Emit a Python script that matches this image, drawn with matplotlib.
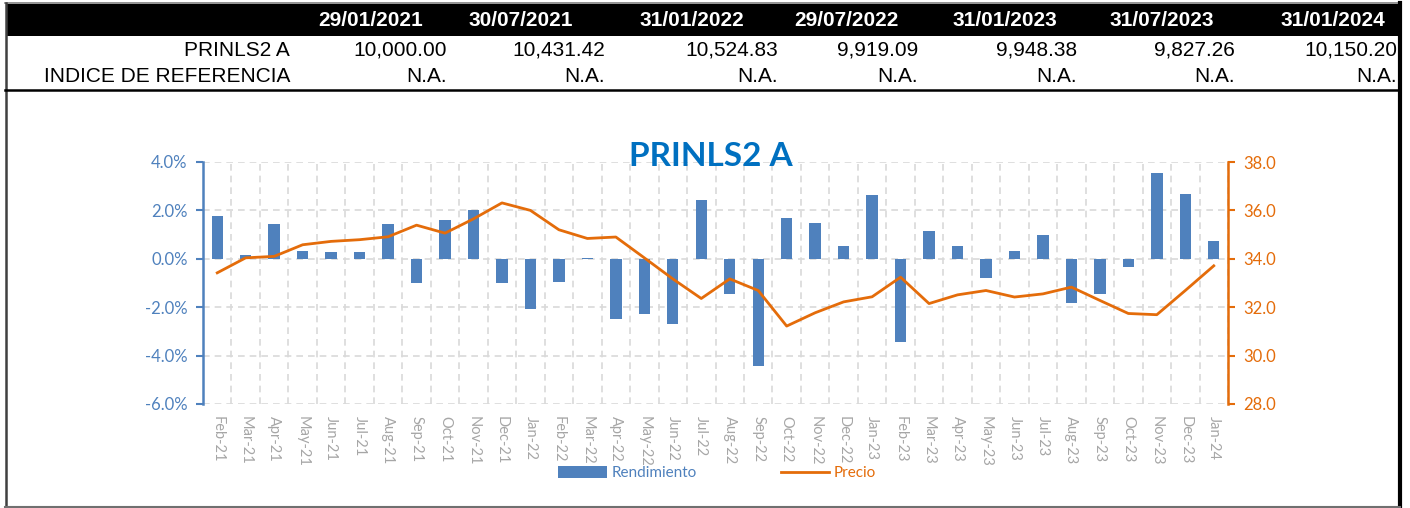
import numpy as np
import matplotlib
matplotlib.use("Agg")
import matplotlib.pyplot as plt
from matplotlib.patches import Rectangle, Patch
from matplotlib.lines import Line2D

# ---------------- data ----------------
fechas = ["29/01/2021", "30/07/2021", "31/01/2022", "29/07/2022",
          "31/01/2023", "31/07/2023", "31/01/2024"]
valores_fondo = ["10,000.00", "10,431.42", "10,524.83", "9,919.09",
                 "9,948.38", "9,827.26", "10,150.20"]
valores_indice = ["N.A."] * 7
fila_labels = ["PRINLS2 A", "INDICE DE REFERENCIA"]

meses = ["Feb-21", "Mar-21", "Apr-21", "May-21", "Jun-21", "Jul-21", "Aug-21",
         "Sep-21", "Oct-21", "Nov-21", "Dec-21", "Jan-22", "Feb-22", "Mar-22",
         "Apr-22", "May-22", "Jun-22", "Jul-22", "Aug-22", "Sep-22", "Oct-22",
         "Nov-22", "Dec-22", "Jan-23", "Feb-23", "Mar-23", "Apr-23", "May-23",
         "Jun-23", "Jul-23", "Aug-23", "Sep-23", "Oct-23", "Nov-23", "Dec-23",
         "Jan-24"]
rendimiento = [1.75, 0.14, 1.42, 0.34, 0.28, 0.28, 1.42, -1.00, 1.61, 2.02,
               -1.00, -2.08, -0.94, 0.04, -2.49, -2.29, -2.69, 2.41, -1.47,
               -4.43, 1.67, 1.47, 0.52, 2.62, -3.43, 1.13, 0.52, -0.80, 0.34,
               1.00, -1.82, -1.47, -0.33, 3.55, 2.69, 0.74]
precio = [33.42, 34.04, 34.10, 34.58, 34.72, 34.79, 34.91, 35.39, 35.06, 35.65,
          36.31, 36.00, 35.20, 34.84, 34.90, 34.04, 33.17, 32.36, 33.17, 32.69,
          31.22, 31.77, 32.22, 32.43, 33.24, 32.15, 32.51, 32.69, 32.42, 32.55,
          32.83, 32.28, 31.74, 31.69, 32.69, 33.71]
titulo = "PRINLS2 A"

# ---------------- layout ----------------
W, H = 1410, 508
fig = plt.figure(figsize=(W / 100, H / 100), dpi=100)

def fx(x):
    return x / W

def fy(y):
    return 1 - y / H

BLUE = "#4F81BD"
ORANGE = "#E46C0A"
GRAY = "#A6A6A6"
TFONT = ["Liberation Sans", "DejaVu Sans"]
CFONT = ["Lato", "DejaVu Sans"]

# table frame
fig.add_artist(Rectangle((fx(7), fy(36)), fx(1400) - fx(7), fy(4) - fy(36),
                         facecolor="black", edgecolor="none",
                         transform=fig.transFigure))
fig.add_artist(Line2D([fx(5), fx(1400)], [fy(3), fy(3)], color="#808080",
                      lw=1.2, transform=fig.transFigure))
fig.add_artist(Line2D([fx(5.5), fx(5.5)], [fy(3), fy(506.5)], color="#404040",
                      lw=1.8, transform=fig.transFigure))
fig.add_artist(Line2D([fx(1400), fx(1400)], [fy(3), fy(506.5)], color="black",
                      lw=3, transform=fig.transFigure))
fig.add_artist(Line2D([fx(5), fx(1400)], [fy(506.5), fy(506.5)], color="#707070",
                      lw=1.5, transform=fig.transFigure))
fig.add_artist(Line2D([fx(5), fx(1400)], [fy(89.5), fy(89.5)], color="black",
                      lw=1.8, transform=fig.transFigure))

header_cx = [371, 521, 692, 846, 1005, 1162, 1333]
value_rx = [447, 605, 778, 918, 1077, 1235, 1397]
for f, cx in zip(fechas, header_cx):
    fig.text(fx(cx), fy(20), f, ha="center", va="center", color="white",
             fontsize=15, fontweight="bold", family=TFONT)
for lab, yy in zip(fila_labels, [50, 77]):
    fig.text(fx(290), fy(yy), lab, ha="right", va="center", color="black",
             fontsize=15, family=TFONT)
for v, rx in zip(valores_fondo, value_rx):
    fig.text(fx(rx), fy(50), v, ha="right", va="center", color="black",
             fontsize=15, family=TFONT)
for v, rx in zip(valores_indice, value_rx):
    fig.text(fx(rx), fy(77), v, ha="right", va="center", color="black",
             fontsize=15, family=TFONT)

# chart
x0, x1, yt, yb = 203, 1228, 162, 404
ax = fig.add_axes([fx(x0), fy(yb), fx(x1) - fx(x0), fy(yt) - fy(yb)])
xs = np.arange(len(meses))
bars = ax.bar(xs, rendimiento, width=0.4, color=BLUE, zorder=3)
ax.set_xlim(-0.5, len(meses) - 0.5)
ax.set_ylim(-6, 4)
ax.set_yticks(np.arange(-6, 4.1, 2))
ax.set_yticklabels([f"{v:.1f}%" for v in np.arange(-6, 4.1, 2)])
ax.set_xticks(xs)
ax.set_xticklabels(meses, rotation=270, color=GRAY, fontsize=10.5,
                   family=CFONT)
ax.set_xticks(np.arange(-0.5, len(meses), 1), minor=True)
ax.tick_params(axis="x", which="both", length=0, pad=9)
ax.tick_params(axis="y", colors=BLUE, labelsize=12, length=5, width=1.5,
               direction="out", pad=6)
for t in ax.get_yticklabels():
    t.set_family(CFONT)
    t.set_color(BLUE)
ax.grid(True, axis="x", which="minor", color="#D9D9D9", ls=(0, (4, 3)), lw=1.2)
ax.grid(True, axis="y", which="major", color="#D9D9D9", ls=(0, (4, 3)), lw=1.2)
ax.set_axisbelow(True)
for s in ["top", "right", "bottom"]:
    ax.spines[s].set_visible(False)
ax.spines["left"].set_color(BLUE)
ax.spines["left"].set_linewidth(1.8)

ax2 = ax.twinx()
line, = ax2.plot(xs, precio, color=ORANGE, lw=2, zorder=4)
ax2.set_ylim(28, 38)
ax2.set_yticks(np.arange(28, 38.1, 2))
ax2.set_yticklabels([f"{v:.1f}" for v in np.arange(28, 38.1, 2)])
ax2.tick_params(axis="y", colors=ORANGE, labelsize=12, length=5, width=1.5,
                direction="out", pad=6)
for t in ax2.get_yticklabels():
    t.set_family(CFONT)
    t.set_color(ORANGE)
for s in ["top", "left", "bottom"]:
    ax2.spines[s].set_visible(False)
ax2.spines["right"].set_color(ORANGE)
ax2.spines["right"].set_linewidth(1.8)

fig.text(fx(711), fy(156), titulo, ha="center", va="center", color="#0070C0",
         fontsize=24, fontweight="bold", family=CFONT)

leg = fig.legend([Patch(facecolor=BLUE), Line2D([], [], color=ORANGE, lw=2)],
                 ["Rendimiento", "Precio"], loc="center",
                 bbox_to_anchor=(fx(717), fy(473)), ncol=2, frameon=False,
                 handlelength=3.2, handleheight=0.8, columnspacing=5.5,
                 handletextpad=0.3, prop={"family": CFONT, "size": 11})
for t, c in zip(leg.get_texts(), [BLUE, ORANGE]):
    t.set_color(c)

fig.savefig("out.png", dpi=100)
